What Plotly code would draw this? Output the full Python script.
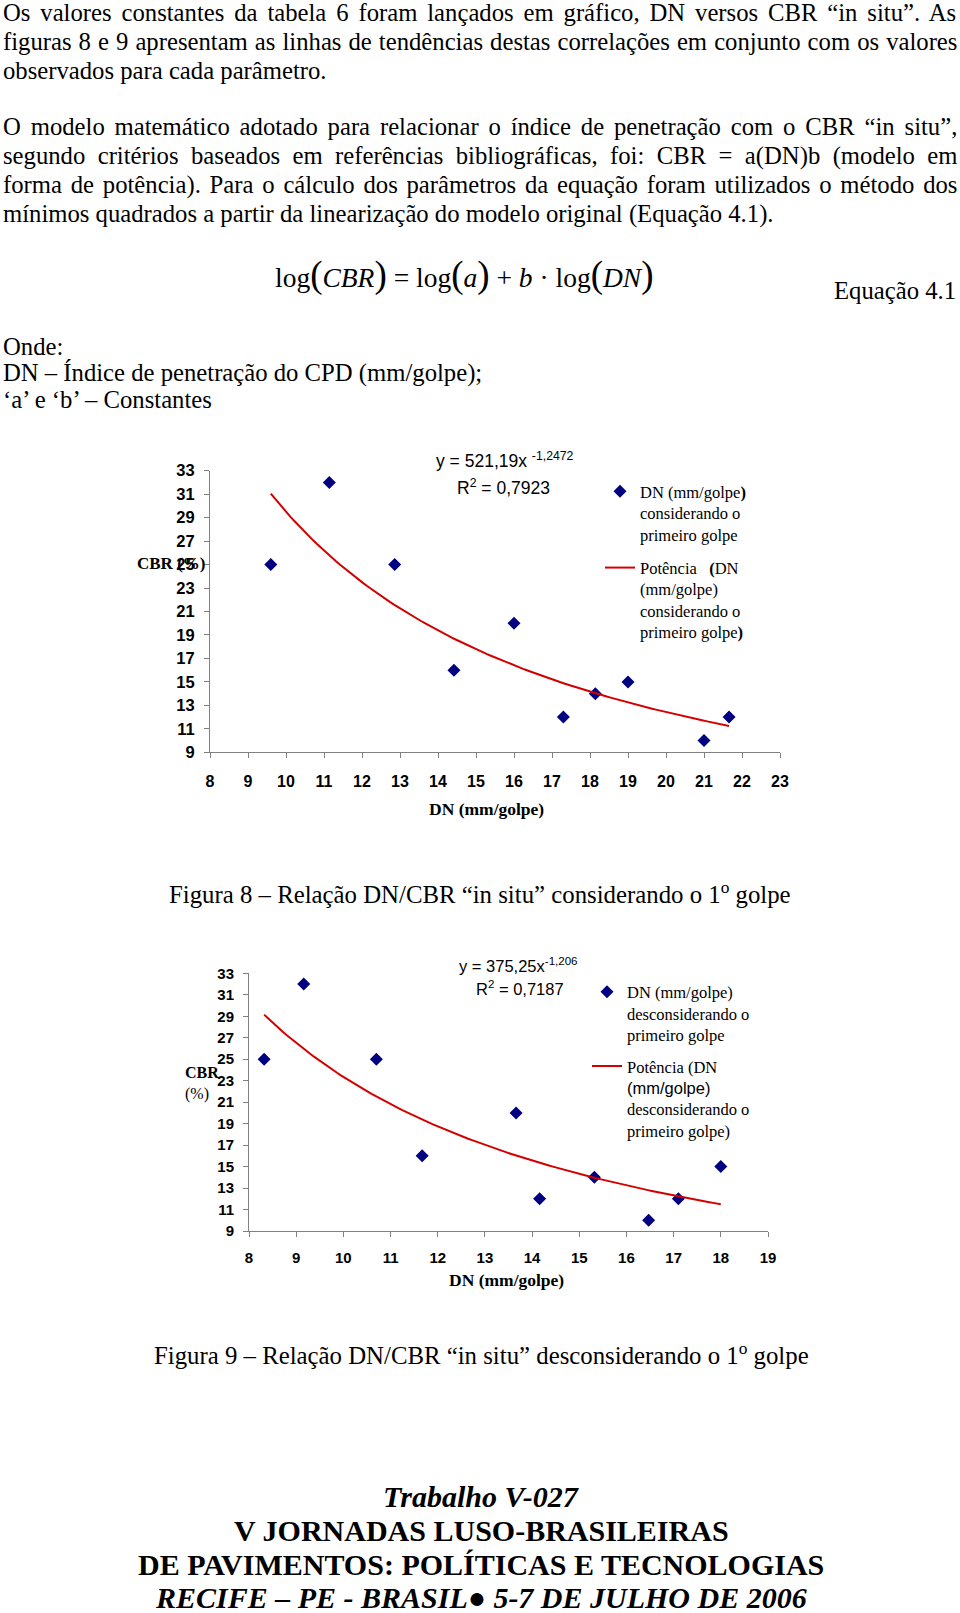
import numpy as np
import plotly.graph_objects as go

W, H = 960, 1613

# ---------------- data ----------------
# Figure 8: DN considering the first blow
dn_fig8 = [9.6, 11.14, 12.86, 14.42, 16.0, 17.3, 18.14, 19.0, 21.0, 21.66]
cbr_fig8 = [25, 32, 25, 16, 20, 12, 14, 15, 10, 12]
a_fig8, b_fig8 = 521.19, -1.2472
eq_fig8 = "y = 521,19x <sup>-1,2472</sup>"
r2_fig8 = "R<sup>2</sup> = 0,7923"

# Figure 9: DN disregarding the first blow
dn_fig9 = [8.32, 9.16, 10.70, 11.67, 13.66, 14.16, 15.32, 16.47, 17.1, 18.0]
cbr_fig9 = [25, 32, 25, 16, 20, 12, 14, 10, 12, 15]
a_fig9, b_fig9 = 375.25, -1.206
eq_fig9 = "y = 375,25x<sup>-1,206</sup>"
r2_fig9 = "R<sup>2</sup> = 0,7187"

x_ticks_fig8 = list(range(8, 24))
x_ticks_fig9 = list(range(8, 20))
y_ticks = list(range(9, 34, 2))

SERIF = "Liberation Serif"
SANS = "Liberation Sans"
NAVY = "#000080"
RED = "#D40000"
GREY = "#808080"

# Times (Liberation Serif) advance widths, per 1000 em, used to justify body lines
TW = {' ': 250, ',': 250, '.': 250, ':': 278, ';': 278, '(': 333, ')': 333, '=': 564,
      '“': 444, '”': 444, '‘': 333, '’': 333, '–': 500, '/': 278, '-': 333}
TW.update({d: 500 for d in "0123456789"})
TW.update(dict(zip("ABCDEFGHIJKLMNOPQRSTUVWXYZ",
                   [722, 667, 667, 722, 611, 556, 722, 722, 333, 389, 722, 611, 889,
                    722, 722, 556, 722, 667, 556, 611, 722, 722, 944, 722, 722, 611])))
TW.update(dict(zip("abcdefghijklmnopqrstuvwxyz",
                   [444, 500, 444, 500, 444, 333, 500, 500, 278, 278, 500, 278, 778,
                    500, 500, 500, 500, 333, 389, 278, 500, 500, 722, 500, 500, 444])))
TW.update({c: 444 for c in "áàâãçéê"})
TW.update({c: 500 for c in "óôõú"})
TW.update({'í': 278, 'Í': 333})


def text_width(s, size):
    return sum(TW.get(c, 500) for c in s) / 1000 * size


def py(p):
    """page pixel (from top) -> paper y"""
    return 1 - p / H


def pxx(p):
    return p / W


fig = go.Figure()

# ---- Figure 8 traces ----
fig.add_trace(go.Scatter(
    x=dn_fig8, y=cbr_fig8, mode="markers", xaxis="x", yaxis="y",
    marker=dict(symbol="diamond", size=10, color=NAVY),
    name="DN (mm/golpe<b>)</b><br>considerando o<br>primeiro golpe",
    legend="legend", legendgroup="a1", cliponaxis=False))
xf8 = np.linspace(min(dn_fig8), max(dn_fig8), 120)
fig.add_trace(go.Scatter(
    x=xf8, y=a_fig8 * xf8 ** b_fig8, mode="lines", xaxis="x", yaxis="y",
    line=dict(color=RED, width=2),
    name="Potência   <b>(</b>DN<br>(mm/golpe)<br>considerando o<br>primeiro golpe<b>)</b>",
    legend="legend", legendgroup="a2"))

# ---- Figure 9 traces ----
fig.add_trace(go.Scatter(
    x=dn_fig9, y=cbr_fig9, mode="markers", xaxis="x2", yaxis="y2",
    marker=dict(symbol="diamond", size=10, color=NAVY),
    name="DN (mm/golpe)<br>desconsiderando o<br>primeiro golpe",
    legend="legend2", legendgroup="b1", cliponaxis=False))
xf9 = np.linspace(min(dn_fig9), max(dn_fig9), 120)
fig.add_trace(go.Scatter(
    x=xf9, y=a_fig9 * xf9 ** b_fig9, mode="lines", xaxis="x2", yaxis="y2",
    line=dict(color=RED, width=2),
    name="Potência (DN<br><span style='font-family:Liberation Sans'>(mm/golpe)</span><br>desconsiderando o<br>primeiro golpe)",
    legend="legend2", legendgroup="b2"))

axis_common = dict(showgrid=False, zeroline=False, showline=True, linecolor=GREY,
                   linewidth=1, ticks="outside", ticklen=5, tickcolor=GREY,
                   tickwidth=1, fixedrange=True, automargin=False)

fig.update_layout(
    width=W, height=H,
    margin=dict(l=0, r=0, t=0, b=0, autoexpand=False),
    paper_bgcolor="white", plot_bgcolor="white",
    showlegend=True,
    xaxis=dict(domain=[pxx(210), pxx(780)], range=[8, 23], tickvals=x_ticks_fig8,
               anchor="y", ticklabelstandoff=9,
               tickfont=dict(family=SANS, size=16, color="black", weight="bold"),
               **axis_common),
    yaxis=dict(domain=[py(752.3), py(470.7)], range=[9, 33], tickvals=y_ticks,
               anchor="x", ticklabelstandoff=6,
               tickfont=dict(family=SANS, size=16.5, color="black", weight="bold"),
               **axis_common),
    xaxis2=dict(domain=[pxx(249), pxx(768)], range=[8, 19], tickvals=x_ticks_fig9,
                anchor="y2", ticklabelstandoff=8,
                tickfont=dict(family=SANS, size=15, color="black", weight="bold"),
                **axis_common),
    yaxis2=dict(domain=[py(1231), py(973.3)], range=[9, 33], tickvals=y_ticks,
                anchor="x2", ticklabelstandoff=6,
                tickfont=dict(family=SANS, size=15, color="black", weight="bold"),
                **axis_common),
    legend=dict(x=pxx(600), y=py(474), xanchor="left", yanchor="top",
                font=dict(family=SERIF, size=16.5, color="black"),
                bgcolor="rgba(0,0,0,0)", valign="top", tracegroupgap=9,
                itemclick=False, itemdoubleclick=False),
    legend2=dict(x=pxx(587), y=py(974.5), xanchor="left", yanchor="top",
                 font=dict(family=SERIF, size=16.5, color="black"),
                 bgcolor="rgba(0,0,0,0)", valign="top", tracegroupgap=7,
                 itemclick=False, itemdoubleclick=False),
)

ann = []


def text(s, x, y, size=24.7, family=SERIF, xanchor="left", yanchor="middle", align="left", **kw):
    ann.append(dict(text=s, x=pxx(x), y=py(y), xref="paper", yref="paper",
                    xanchor=xanchor, yanchor=yanchor, align=align, showarrow=False,
                    font=dict(family=family, size=size, color="black"), **kw))


BODY = 24.7
LEFT, RIGHT = 1, 956


def justified(s, y):
    nat = text_width(s, BODY)
    ws = max(0.0, (RIGHT - LEFT - nat) / max(1, s.count(' ')))
    text("<span style='word-spacing:%.2fpx'>%s</span>" % (ws, s), LEFT, y, size=BODY)


# ---- body text ----
para1 = [
    "Os valores constantes da tabela 6 foram lançados em gráfico, DN versos CBR “in situ”. As",
    "figuras 8 e 9 apresentam as linhas de tendências destas correlações em conjunto com os valores",
    "observados para cada parâmetro.",
]
para2 = [
    "O modelo matemático adotado para relacionar o índice de penetração com o CBR “in situ”,",
    "segundo critérios baseados em referências bibliográficas, foi: CBR = a(DN)b (modelo em",
    "forma de potência). Para o cálculo dos parâmetros da equação foram utilizados o método dos",
    "mínimos quadrados a partir da linearização do modelo original (Equação 4.1).",
]
for i, (s, y) in enumerate(zip(para1, [12.5, 41.5, 70.5])):
    if i < len(para1) - 1:
        justified(s, y)
    else:
        text(s, LEFT, y, size=BODY)
for i, (s, y) in enumerate(zip(para2, [127, 156, 185, 214])):
    if i < len(para2) - 1:
        justified(s, y)
    else:
        text(s, LEFT, y, size=BODY)

# equation
P = "<span style='font-size:37px'>%s</span>"
eq = ("log" + P % "(" + "<i>CBR</i>" + P % ")" + " = log" + P % "(" + "<i>a</i>" + P % ")"
      + " + <i>b</i> · log" + P % "(" + "<i>DN</i>" + P % ")")
text(eq, 273, 275, size=27.5)
text("Equação 4.1", 958, 291, size=BODY, xanchor="right", align="right")

onde = ["Onde:", "DN – Índice de penetração do CPD (mm/golpe);", "‘a’ e ‘b’ – Constantes"]
for s, y in zip(onde, [347, 373, 400]):
    text(s, LEFT, y, size=BODY)

# ---- Figure 8 texts ----
text(eq_fig8, 505, 460, size=17.5, family=SANS, xanchor="center", align="center")
text(r2_fig8, 503, 487, size=17.5, family=SANS, xanchor="center", align="center")
text("<b>CBR (%)</b>", 171, 564, size=17, xanchor="center", align="center")
text("<b>DN (mm/golpe)</b>", 486, 809, size=17.5, xanchor="center", align="center")
text("Figura 8 – Relação DN/CBR “in situ” considerando o 1<sup>o</sup> golpe", 480, 893,
     size=24.8, xanchor="center", align="center")

# ---- Figure 9 texts ----
text(eq_fig9, 518, 965, size=16.5, family=SANS, xanchor="center", align="center")
text(r2_fig9, 520, 988, size=16.5, family=SANS, xanchor="center", align="center")
text("<b>CBR</b><br>(%)", 183, 1083, size=16, xanchor="left", align="left")
text("<b>DN (mm/golpe)</b>", 506, 1280, size=17.5, xanchor="center", align="center")
text("Figura 9 – Relação DN/CBR “in situ” desconsiderando o 1<sup>o</sup> golpe", 481, 1354,
     size=24.8, xanchor="center", align="center")

# ---- footer ----
footer = [
    ("<b><i>Trabalho V-027</i></b>", 1496),
    ("<b>V JORNADAS LUSO-BRASILEIRAS</b>", 1530),
    ("<b>DE PAVIMENTOS: POLÍTICAS E TECNOLOGIAS</b>", 1564),
    ("<b><i>RECIFE – PE - BRASIL● 5-7 DE JULHO DE 2006</i></b>", 1597),
]
for s, y in footer:
    text(s, 481, y, size=30, xanchor="center", align="center")

fig.update_layout(annotations=ann)
fig.write_html("out.html", config={"displayModeBar": False},
               post_script="document.body.style.margin='0';"
                           "document.documentElement.style.overflow='hidden';")
